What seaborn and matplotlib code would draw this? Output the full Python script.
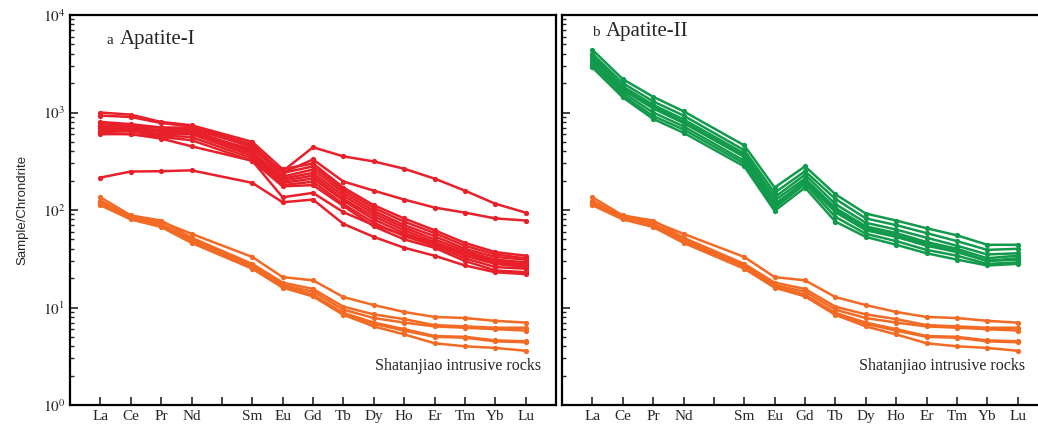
import numpy as np
import pandas as pd
import matplotlib
matplotlib.use("Agg")
import matplotlib.pyplot as plt
from matplotlib.ticker import LogLocator, FixedLocator, NullFormatter
import seaborn as sns

# ---------------- data ----------------
elements = ["La", "Ce", "Pr", "Nd", "Sm", "Eu", "Gd", "Tb", "Dy", "Ho", "Er", "Tm", "Yb", "Lu"]
positions = [0, 1, 2, 3, 5, 6, 7, 8, 9, 10, 11, 12, 13, 14]   # Pm slot (4) left empty
tick_labels = ["La", "Ce", "Pr", "Nd", "", "Sm", "Eu", "Gd", "Tb", "Dy", "Ho", "Er", "Tm", "Yb", "Lu"]

apatite_I = [
    [720, 700, 650, 620, 420, 250, 440, 355, 315, 265, 210, 158, 116, 94],
    [800, 760, 700, 680, 450, 240, 330, 196, 158, 128, 106, 94, 82, 78],
    [215, 248, 250, 255, 190, 120, 128, 72, 53, 41, 34, 27, 23, 22],
    [620, 600, 540, 450, 320, 135, 150, 95, 70, 56, 45, 36, 30, 28],
    [1000, 950, 800, 740, 500, 262, 300, 170, 112, 82, 62, 46, 37, 34],
    [930, 900, 780, 720, 470, 240, 280, 160, 105, 76, 58, 43, 35, 32],
    [780, 740, 700, 700, 440, 220, 260, 150, 98, 70, 54, 40, 33, 31],
    [740, 720, 660, 660, 400, 210, 240, 140, 92, 66, 50, 38, 31, 29],
    [700, 690, 630, 630, 380, 200, 225, 130, 86, 62, 47, 36, 29, 27],
    [680, 660, 600, 600, 360, 190, 210, 125, 80, 58, 45, 34, 28, 26],
    [650, 640, 580, 560, 340, 180, 195, 115, 74, 54, 43, 32, 26, 25],
    [600, 600, 560, 520, 320, 175, 180, 110, 68, 50, 41, 30, 24, 23],
]

apatite_II = [
    [4400, 2200, 1450, 1030, 460, 170, 280, 145, 92, 78, 65, 55, 44, 44],
    [4000, 2000, 1300, 930, 410, 150, 250, 130, 82, 70, 58, 48, 39, 40],
    [3700, 1850, 1200, 850, 380, 135, 230, 115, 74, 63, 52, 43, 35, 36],
    [3500, 1700, 1100, 780, 350, 125, 210, 105, 68, 58, 47, 40, 32, 34],
    [3300, 1600, 1000, 720, 320, 115, 195, 95, 62, 53, 43, 37, 30, 31],
    [3100, 1500, 920, 670, 300, 105, 185, 85, 57, 48, 39, 34, 28, 29],
    [2900, 1430, 860, 620, 280, 98, 170, 76, 53, 44, 36, 31, 27, 28],
    [3900, 1800, 1150, 800, 360, 110, 200, 100, 65, 55, 45, 38, 30, 32],
]

shatanjiao = [
    [120, 86, 76, 57, 33, 20.5, 19, 12.8, 10.6, 9.0, 8.0, 7.8, 7.3, 7.0],
    [135, 88, 78, 52, 28, 18, 15.5, 10.2, 8.5, 7.6, 6.6, 6.4, 6.2, 6.2],
    [125, 84, 72, 50, 27, 17, 14.5, 9.5, 7.8, 7.0, 6.4, 6.2, 6.0, 5.8],
    [115, 82, 70, 48, 26, 16.5, 13.5, 8.8, 7.0, 6.0, 5.1, 5.0, 4.6, 4.5],
    [118, 83, 69, 47, 25.5, 16.2, 13.2, 8.6, 6.8, 5.8, 5.0, 4.9, 4.5, 4.4],
    [112, 80, 67, 46, 25, 16, 13, 8.4, 6.4, 5.3, 4.3, 4.0, 3.85, 3.6],
]

def to_long(rows, group):
    recs = []
    for i, r in enumerate(rows):
        for p, e, v in zip(positions, elements, r):
            recs.append({"pos": p, "element": e, "value": v,
                         "sample": f"{group}-{i}", "group": group})
    return pd.DataFrame(recs)

df_a = pd.concat([to_long(shatanjiao, "Shatanjiao"), to_long(apatite_I, "Apatite-I")])
df_b = pd.concat([to_long(shatanjiao, "Shatanjiao"), to_long(apatite_II, "Apatite-II")])

palette = {"Shatanjiao": "#F26A24", "Apatite-I": "#E8202A", "Apatite-II": "#129A4C"}

# ---------------- style ----------------
sns.set_style("ticks")
plt.rcParams["font.family"] = ["Liberation Serif", "DejaVu Serif"]
plt.rcParams["mathtext.fontset"] = "stix"

fig = plt.figure(figsize=(10.38, 4.33), dpi=100)
ax_a = fig.add_axes([70 / 1038, 28 / 433, 486 / 1038, 390 / 433])
ax_b = fig.add_axes([562 / 1038, 28 / 433, 486 / 1038, 390 / 433])

for ax, df in ((ax_a, df_a), (ax_b, df_b)):
    sns.lineplot(data=df, x="pos", y="value", hue="group", units="sample",
                 estimator=None, palette=palette, marker="o", markersize=3.8,
                 markeredgewidth=0, linewidth=1.8, legend=False, ax=ax)
    ax.set_yscale("log")
    ax.set_ylim(1, 1e4)
    ax.set_xlim(-1, 15)
    ax.xaxis.set_major_locator(FixedLocator(range(15)))
    ax.set_xticklabels(tick_labels, fontsize=11)
    ax.yaxis.set_major_locator(LogLocator(base=10, numticks=10))
    ax.yaxis.set_minor_locator(LogLocator(base=10, subs=np.arange(2, 10), numticks=20))
    ax.yaxis.set_minor_formatter(NullFormatter())
    ax.tick_params(axis="both", which="major", direction="in", length=6, width=1.2)
    ax.tick_params(axis="y", which="minor", direction="in", length=3, width=1)
    ax.tick_params(axis="x", which="both", top=False)
    ax.tick_params(axis="y", which="both", right=False)
    for s in ax.spines.values():
        s.set_visible(True)
        s.set_linewidth(1.6)
        s.set_color("black")
    ax.set_xlabel("")
    ax.set_ylabel("")

ax_a.set_yticks([1, 10, 100, 1000, 10000])
ax_a.set_yticklabels([r"$10^{0}$", r"$10^{1}$", r"$10^{2}$", r"$10^{3}$", r"$10^{4}$"], fontsize=11)
ax_a.set_ylabel("Sample/Chrondrite", family=["Liberation Sans", "DejaVu Sans"], fontsize=9.5, labelpad=10)
ax_b.set_yticks([1, 10, 100, 1000, 10000])
ax_b.set_yticklabels([])

ax_a.text(0.075, 0.935, "a", transform=ax_a.transAxes, fontsize=11, va="center", ha="left")
ax_a.text(0.103, 0.938, "Apatite-I", transform=ax_a.transAxes, fontsize=15, va="center", ha="left")
ax_b.text(0.062, 0.955, "b", transform=ax_b.transAxes, fontsize=11, va="center", ha="left")
ax_b.text(0.09, 0.958, "Apatite-II", transform=ax_b.transAxes, fontsize=15, va="center", ha="left")

ax_a.text(0.969, 0.10, "Shatanjiao intrusive rocks", transform=ax_a.transAxes,
          fontsize=11.5, va="center", ha="right")
ax_b.text(0.953, 0.10, "Shatanjiao intrusive rocks", transform=ax_b.transAxes,
          fontsize=11.5, va="center", ha="right")

fig.savefig("out.png", dpi=100)
